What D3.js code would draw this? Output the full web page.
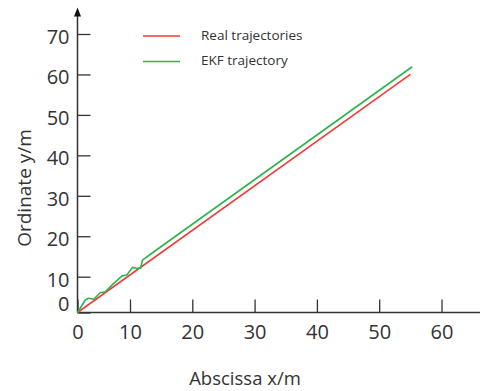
<!DOCTYPE html>
<html><head><meta charset="utf-8">
<script src="https://cdn.jsdelivr.net/npm/d3@7"></script>
<style>html,body{margin:0;padding:0;background:#fff;}svg{display:block;}</style>
</head><body>
<svg id="c" width="480" height="391"></svg>
<script>
// ---- data ----
const xTicks = [0, 10, 20, 30, 40, 50, 60];
const yTicks = [0, 10, 20, 30, 40, 50, 60, 70];
const realX = [0, 55];
const realY = [0, 60];
const ekfX = [0, 1.5, 2.1, 3.1, 4.3, 5.3, 6.6, 8.5, 9.4, 10.4, 11.1, 11.7, 12.0, 13.5, 55.3];
const ekfY = [0, 3.5, 4.0, 3.7, 5.5, 5.8, 7.7, 10.2, 10.4, 12.3, 12.1, 12.1, 14.1, 15.8, 61.9];
const seriesNames = ["Real trajectories", "EKF trajectory"];
const seriesColors = ["#f23a3a", "#2bb54f"];

const svg = d3.select("#c");
const font = "'Open Sans', 'Noto Sans', sans-serif";
const axisColor = "#333";

// hand-drawn axis: first interval narrower than the others
const x = d3.scaleLinear().domain([0, 10, 60]).range([77.5, 130, 441.5]);
const y = d3.scaleLinear().domain([0, 10, 70]).range([312.5, 276.7, 34]);

// axes
const gx = svg.append("g").attr("transform", `translate(0,${y(0)})`)
  .call(d3.axisBottom(x).tickValues(xTicks).tickSize(-13).tickPadding(12).tickFormat(d3.format("d")));
gx.select(".domain").remove();
gx.append("line").attr("x1", x(0)).attr("x2", 480).attr("y1", 0).attr("y2", 0)
  .attr("stroke", axisColor).attr("stroke-width", 1.5);
gx.selectAll(".tick line").attr("stroke", axisColor).attr("stroke-width", 1.3);
gx.selectAll(".tick text").attr("fill", axisColor).style("font-family", font).style("font-size", "20px")
  .attr("y", 12).attr("dy", "0.71em");

const gy = svg.append("g").attr("transform", `translate(${x(0)},0)`)
  .call(d3.axisLeft(y).tickValues(yTicks).tickSize(-13).tickPadding(8).tickFormat(d3.format("d")));
gy.select(".domain").remove();
gy.append("line").attr("x1", 0).attr("x2", 0).attr("y1", y(0)).attr("y2", 15)
  .attr("stroke", axisColor).attr("stroke-width", 1.5);
gy.append("path").attr("d", "M0,7.5 L-3.5,16.5 L3.5,16.5 Z").attr("fill", "#111");
gy.selectAll(".tick line").attr("stroke", axisColor).attr("stroke-width", 1.3);
gy.selectAll(".tick text").attr("fill", axisColor).style("font-family", font).style("font-size", "20px")
  .attr("dy", d => d === 0 ? "-0.1em" : "0.47em");

// lines
const line = d3.line().x(d => x(d[0])).y(d => y(d[1]));
const realData = realX.map((v, i) => [v, realY[i]]);
const ekfData = ekfX.map((v, i) => [v, ekfY[i]]);
svg.append("path").datum(realData).attr("d", line).attr("fill", "none")
  .attr("stroke", seriesColors[0]).attr("stroke-width", 1.6);
svg.append("path").datum(ekfData).attr("d", line).attr("fill", "none")
  .attr("stroke", seriesColors[1]).attr("stroke-width", 1.6).attr("stroke-linejoin", "round");

// legend
const lg = svg.append("g");
seriesNames.forEach((n, i) => {
  const yy = 36 + i * 25.5;
  lg.append("line").attr("x1", 143).attr("x2", 180).attr("y1", yy).attr("y2", yy)
    .attr("stroke", seriesColors[i]).attr("stroke-width", 1.6);
  lg.append("text").attr("x", 201).attr("y", yy + 3.5).text(n)
    .attr("fill", "#333").style("font-family", font).style("font-size", "13.5px");
});

// axis titles
svg.append("text").attr("x", 245).attr("y", 385).attr("text-anchor", "middle")
  .attr("fill", axisColor).style("font-family", font).style("font-size", "18.5px").text("Abscissa x/m");
svg.append("text").attr("transform", "translate(31,188) rotate(-90)").attr("text-anchor", "middle")
  .attr("fill", axisColor).style("font-family", font).style("font-size", "19px").text("Ordinate y/m");
</script>
</body></html>
